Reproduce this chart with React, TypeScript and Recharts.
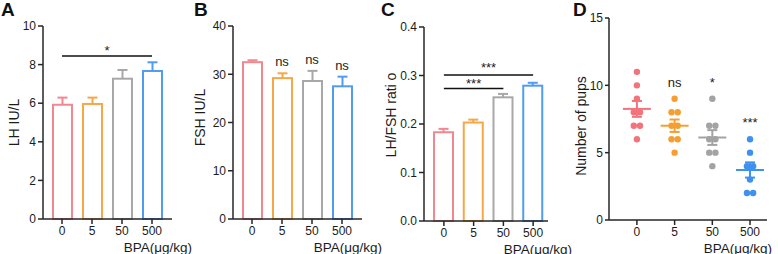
import React from 'react';
import {
  ComposedChart,
  Bar,
  XAxis,
  YAxis,
  ReferenceLine,
  ReferenceDot,
  Label,
  Scatter,
  ErrorBar,
} from 'recharts';

// doses (µg/kg) shared by all panels
const doses = ['0', '5', '50', '500'];

// A: LH (IU/L), mean and SEM
const lhMean = [5.92, 5.96, 7.27, 7.67];
const lhSem = [0.37, 0.33, 0.45, 0.45];

// B: FSH (IU/L)
const fshMean = [32.5, 29.2, 28.6, 27.5];
const fshSem = [0.4, 1.0, 2.1, 2.0];
const fshMarks = ['', 'ns', 'ns', 'ns'];

// C: LH/FSH ratio
const ratioMean = [0.183, 0.203, 0.255, 0.279];
const ratioSem = [0.007, 0.006, 0.007, 0.006];

// D: number of pups per dam
const pups0 = [11, 10, 9, 8, 8, 7, 7, 6];
const pups5 = [9, 8, 8, 7, 7, 6, 6, 5];
const pups50 = [9, 7, 7, 6, 6, 5, 5, 4];
const pups500 = [6, 5, 4, 4, 3, 2, 2];
const pupMarks = ['', 'ns', '*', '***'];

const barColors = ['#F38790', '#F5A848', '#A8A8A8', '#4F9CF1'];
const dotColors = ['#F2737C', '#F59F33', '#A3A3A3', '#3F91EF'];
const FONT = '"Liberation Sans", Arial, Helvetica, sans-serif';
const INK = '#1c1c1c';
const axisStyle = { stroke: '#262626', strokeWidth: 1.5 };
const tickStyle = { fontSize: 12, fill: INK, fontFamily: FONT };

const toRows = (mean: number[], sem: number[]) =>
  doses.map((d, i) => ({ dose: d, mean: mean[i], sem: sem[i] }));

// outlined bar with the upper half of its SEM whisker
const OutlineBar = (props: any) => {
  const { x, y, width, height, payload, index } = props;
  const c = barColors[index];
  const pxPerUnit = height / payload.mean;
  const top = y - payload.sem * pxPerUnit;
  const cx = x + width / 2;
  return (
    <g>
      <rect x={x} y={y} width={width} height={height} fill="#fff" stroke={c} strokeWidth={2} />
      <line x1={cx} y1={y} x2={cx} y2={top} stroke={c} strokeWidth={2} />
      <line x1={cx - 5} y1={top} x2={cx + 5} y2={top} stroke={c} strokeWidth={2} />
    </g>
  );
};

const yTitle = (text: string, dx: number, dy: number) => (p: any) => {
  const vb = p.viewBox;
  const cx = vb.x + dx;
  const cy = vb.y + vb.height / 2 + dy;
  return (
    <text
      x={cx}
      y={cy}
      transform={`rotate(-90 ${cx} ${cy})`}
      textAnchor="middle"
      dominantBaseline="central"
      fontSize={14}
      fontFamily={FONT}
      fill={INK}
    >
      {text}
    </text>
  );
};

const xTitle = (right: number) => (p: any) => {
  const vb = p.viewBox;
  return (
    <text x={right} y={vb.y + 32.5} textAnchor="end" fontSize={13.5} fontFamily={FONT} fill={INK}>
      BPA(μg/kg)
    </text>
  );
};

const markLabel = (text: string, offset: number) => (
  <Label value={text} position="top" offset={offset} fontSize={13} fontFamily={FONT} fill={INK} />
);

function BarPanel(props: any) {
  const { rows, width, top, bottom, yw, right, domain, ticks, fmt, pad, yLabel, ylx, yly, xRight, children } = props;
  return (
    <ComposedChart width={width} height={254} data={rows} margin={{ top, right, bottom: 0, left: 0 }}>
      <XAxis
        dataKey="dose"
        type="category"
        height={254 - bottom}
        padding={pad}
        tickSize={5}
        tickMargin={2}
        tick={tickStyle}
        axisLine={axisStyle}
        tickLine={axisStyle}
      >
        <Label content={xTitle(xRight)} />
      </XAxis>
      <YAxis
        type="number"
        width={yw}
        domain={domain}
        ticks={ticks}
        interval={0}
        tickFormatter={fmt}
        tickSize={5}
        tickMargin={2}
        tick={tickStyle}
        axisLine={axisStyle}
        tickLine={axisStyle}
      >
        <Label content={yTitle(yLabel, ylx, yly)} />
      </YAxis>
      <Bar dataKey="mean" barSize={19} isAnimationActive={false} shape={(p: any) => <OutlineBar {...p} />} />
      {children}
    </ComposedChart>
  );
}

const groups = [pups0, pups5, pups50, pups500];
const dotRows = groups.map((vals, g) =>
  vals.map((v, i) => ({
    g,
    v,
    k: vals.slice(0, i).filter((u) => u === v).length,
    n: vals.filter((u) => u === v).length,
  }))
);
const meanRows = groups.map((vals, g) => {
  const m = vals.reduce((a, b) => a + b, 0) / vals.length;
  const sd = Math.sqrt(vals.reduce((a, b) => a + (b - m) ** 2, 0) / (vals.length - 1));
  return { g, v: m, e: sd / Math.sqrt(vals.length) };
});

function PupsPanel() {
  return (
    <ComposedChart width={208} height={254} margin={{ top: 18, right: 11, bottom: 0, left: 0 }}>
      <XAxis
        dataKey="g"
        type="number"
        domain={[-0.74, 3.45]}
        allowDataOverflow
        ticks={[0, 1, 2, 3]}
        interval={0}
        tickFormatter={(i: number) => doses[i]}
        height={34}
        tickSize={5}
        tickMargin={2}
        tick={tickStyle}
        axisLine={axisStyle}
        tickLine={axisStyle}
      >
        <Label content={xTitle(202)} />
      </XAxis>
      <YAxis
        type="number"
        width={39}
        domain={[0, 15]}
        ticks={[0, 5, 10, 15]}
        interval={0}
        tickSize={4}
        tickMargin={2}
        tick={tickStyle}
        axisLine={axisStyle}
        tickLine={axisStyle}
      >
        <Label content={yTitle('Number of pups', 11, 7)} />
      </YAxis>
      {dotRows.map((rows, g) => (
        <Scatter
          key={'d' + g}
          data={rows}
          dataKey="v"
          isAnimationActive={false}
          shape={(p: any) => (
            <circle
              cx={p.cx + (p.payload.k - (p.payload.n - 1) / 2) * 6.2}
              cy={p.cy}
              r={3.2}
              fill={dotColors[g]}
            />
          )}
        />
      ))}
      {meanRows.map((row, g) => (
        <Scatter
          key={'m' + g}
          data={[row]}
          dataKey="v"
          isAnimationActive={false}
          shape={(p: any) => (
            <line x1={p.cx - 14} x2={p.cx + 14} y1={p.cy} y2={p.cy} stroke={dotColors[g]} strokeWidth={2} />
          )}
        >
          <ErrorBar dataKey="e" direction="y" width={5} stroke={dotColors[g]} strokeWidth={2} />
        </Scatter>
      ))}
      {pupMarks.map((m, g) =>
        m ? (
          <ReferenceDot key={'s' + g} x={g} y={Math.max(...groups[g])} r={0} fill="none" stroke="none">
            {markLabel(m, 12)}
          </ReferenceDot>
        ) : null
      )}
    </ComposedChart>
  );
}

const letters = [
  { t: 'A', x: 0 },
  { t: 'B', x: 193 },
  { t: 'C', x: 380 },
  { t: 'D', x: 572 },
];

export default function App() {
  const place = (left: number): React.CSSProperties => ({ position: 'absolute', left, top: 0 });
  return (
    <div style={{ position: 'absolute', left: 0, top: 0, width: 778, height: 254, background: '#fff', overflow: 'hidden' }}>
      <div style={place(0)}>
        <BarPanel
          rows={toRows(lhMean, lhSem)}
          width={196}
          top={26}
          bottom={219}
          yw={43}
          right={24}
          domain={[0, 10]}
          ticks={[0, 2, 4, 6, 8, 10]}
          pad={{ left: 4, right: 5 }}
          yLabel="LH IU/L"
          ylx={14}
          yly={0}
          xRight={192}
        >
          <ReferenceLine
            segment={[{ x: '0', y: 8.45 }, { x: '500', y: 8.45 }]}
            stroke="#111"
            strokeWidth={1.5}
          >
            {markLabel('*', 1)}
          </ReferenceLine>
        </BarPanel>
      </div>
      <div style={place(190)}>
        <BarPanel
          rows={toRows(fshMean, fshSem)}
          width={196}
          top={26}
          bottom={219}
          yw={43}
          right={24}
          domain={[0, 40]}
          ticks={[0, 10, 20, 30, 40]}
          pad={{ left: 4, right: 5 }}
          yLabel="FSH IU/L"
          ylx={10}
          yly={-5}
          xRight={192}
        >
          {fshMarks.map((m, i) =>
            m ? (
              <ReferenceDot key={i} x={doses[i]} y={fshMean[i] + fshSem[i]} r={0} fill="none" stroke="none">
                {markLabel(m, 7)}
              </ReferenceDot>
            ) : null
          )}
        </BarPanel>
      </div>
      <div style={place(380)}>
        <BarPanel
          rows={toRows(ratioMean, ratioSem)}
          width={196}
          top={27}
          bottom={221}
          yw={44}
          right={28}
          domain={[0, 0.4]}
          ticks={[0, 0.1, 0.2, 0.3, 0.4]}
          fmt={(v: number) => v.toFixed(1)}
          pad={{ left: 5, right: 0 }}
          yLabel="LH/FSH rati o"
          ylx={11}
          yly={-9}
          xRight={192}
        >
          <ReferenceLine
            segment={[{ x: '0', y: 0.301 }, { x: '500', y: 0.301 }]}
            stroke="#111"
            strokeWidth={1.5}
          >
            {markLabel('***', 3)}
          </ReferenceLine>
          <ReferenceLine
            segment={[{ x: '0', y: 0.273 }, { x: '50', y: 0.273 }]}
            stroke="#111"
            strokeWidth={1.5}
          >
            {markLabel('***', 1)}
          </ReferenceLine>
        </BarPanel>
      </div>
      <div style={place(570)}>
        <PupsPanel />
      </div>
      <svg width={778} height={254} style={{ position: 'absolute', left: 0, top: 0, pointerEvents: 'none' }}>
        {letters.map((l) => (
          <text key={l.t} x={l.x + 1} y={16} fontSize={19} fontWeight="bold" fontFamily={FONT} fill="#111">
            {l.t}
          </text>
        ))}
      </svg>
    </div>
  );
}
